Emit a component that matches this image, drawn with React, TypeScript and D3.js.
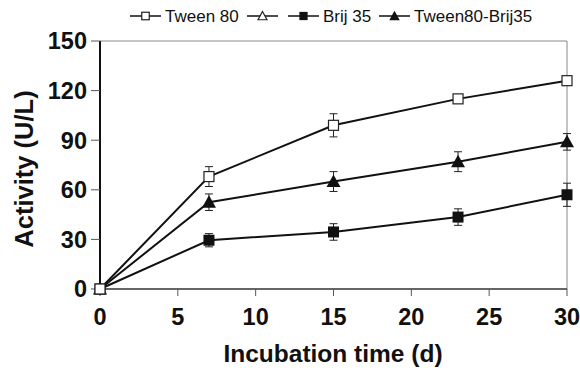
import React from "react";
import * as d3 from "d3";

const days = [0, 7, 15, 23, 30];
const tween80 = [0, 68, 99, 115, 126];
const tween80Err = [0, 6, 7, 2, 2];
const brij35 = [0, 29.5, 34.5, 43.5, 57];
const brij35Err = [0, 4, 5, 5, 7];
const mix = [0, 52.5, 65, 77, 89];
const mixErr = [0, 5, 6, 6, 5];
const xTicks = [0, 5, 10, 15, 20, 25, 30];
const yTicks = [0, 30, 60, 90, 120, 150];

const W = 580, H = 374;
const left = 100, right = 567, top = 41, bottom = 289;
const font = "Liberation Sans, Arial, sans-serif";

function Marker({ kind, x, y, s = 1 }: { kind: string; x: number; y: number; s?: number }) {
  if (kind === "osq") return <rect x={x - 5 * s} y={y - 5 * s} width={10 * s} height={10 * s} fill="#fff" stroke="#222" strokeWidth={1.2} />;
  if (kind === "fsq") return <rect x={x - 5.5 * s} y={y - 5.5 * s} width={11 * s} height={11 * s} fill="#111" />;
  if (kind === "otri") return <path d={`M${x},${y - 6 * s}L${x + 6 * s},${y + 5 * s}L${x - 6 * s},${y + 5 * s}Z`} fill="#fff" stroke="#222" strokeWidth={1.2} />;
  return <path d={`M${x},${y - 7 * s}L${x + 7 * s},${y + 5.5 * s}L${x - 7 * s},${y + 5.5 * s}Z`} fill="#111" />;
}

export default function App() {
  const x = d3.scaleLinear().domain([0, 30]).range([left, right]);
  const y = d3.scaleLinear().domain([0, 150]).range([bottom, top]);
  const line = d3.line<number>().x((_, i) => x(days[i])).y((v) => y(v));
  const series = [
    { vals: brij35, err: brij35Err, kind: "fsq" },
    { vals: mix, err: mixErr, kind: "ftri" },
    { vals: tween80, err: tween80Err, kind: "osq" },
  ];
  const legend = [
    { kind: "osq", label: "Tween 80", lx: 130 },
    { kind: "otri", label: "", lx: 247 },
    { kind: "fsq", label: "Brij 35", lx: 288 },
    { kind: "ftri", label: "Tween80-Brij35", lx: 379 },
  ];
  return (
    <svg width={W} height={H} style={{ position: "absolute", left: 0, top: 0, background: "#fff" }} fontFamily={font}>
      <rect x={0} y={0} width={W} height={H} fill="#fff" />
      <line x1={left} y1={top} x2={right} y2={top} stroke="#888" strokeWidth={1} />
      <line x1={right} y1={top} x2={right} y2={bottom} stroke="#888" strokeWidth={1} />
      <line x1={left} y1={bottom} x2={right} y2={bottom} stroke="#333" strokeWidth={1.5} />
      <line x1={left} y1={top} x2={left} y2={bottom} stroke="#111" strokeWidth={2} />
      {yTicks.map((t) => (
        <g key={"y" + t}>
          <line x1={left - 9} x2={left} y1={y(t)} y2={y(t)} stroke="#555" strokeWidth={1} />
          <text x={left - 13} y={y(t)} dy="0.36em" textAnchor="end" fontSize={23.5} fontWeight="bold" fill="#111">{t}</text>
        </g>
      ))}
      {xTicks.map((t) => (
        <g key={"x" + t}>
          <line x1={x(t)} x2={x(t)} y1={bottom} y2={bottom + 7} stroke="#555" strokeWidth={1} />
          <text x={x(t)} y={bottom + 36} textAnchor="middle" fontSize={23.5} fontWeight="bold" fill="#111">{t}</text>
        </g>
      ))}
      {series.map((s, si) => (
        <g key={si}>
          <path d={line(s.vals) || ""} fill="none" stroke="#111" strokeWidth={2} />
          {s.vals.map((v, i) =>
            s.err[i] > 0 ? (
              <g key={i} stroke="#222" strokeWidth={1}>
                <line x1={x(days[i])} x2={x(days[i])} y1={y(v + s.err[i])} y2={y(v - s.err[i])} />
                <line x1={x(days[i]) - 4} x2={x(days[i]) + 4} y1={y(v + s.err[i])} y2={y(v + s.err[i])} />
                <line x1={x(days[i]) - 4} x2={x(days[i]) + 4} y1={y(v - s.err[i])} y2={y(v - s.err[i])} />
              </g>
            ) : null
          )}
          {s.vals.map((v, i) => (
            <Marker key={"m" + i} kind={s.kind} x={x(days[i])} y={y(v)} />
          ))}
        </g>
      ))}
      {legend.map((l) => (
        <g key={l.kind}>
          <line x1={l.lx} x2={l.lx + 31} y1={16} y2={16} stroke="#111" strokeWidth={1.5} />
          <Marker kind={l.kind} x={l.lx + 15.5} y={16} s={0.75} />
          {l.label && (
            <text x={l.lx + 35} y={16} dy="0.36em" fontSize={17} fill="#111">{l.label}</text>
          )}
        </g>
      ))}
      <text x={333} y={362} textAnchor="middle" fontSize={24.5} fontWeight="bold" fill="#111">Incubation time (d)</text>
      <text transform={`translate(33,169) rotate(-90)`} textAnchor="middle" fontSize={25.5} fontWeight="bold" fill="#111">Activity (U/L)</text>
    </svg>
  );
}
